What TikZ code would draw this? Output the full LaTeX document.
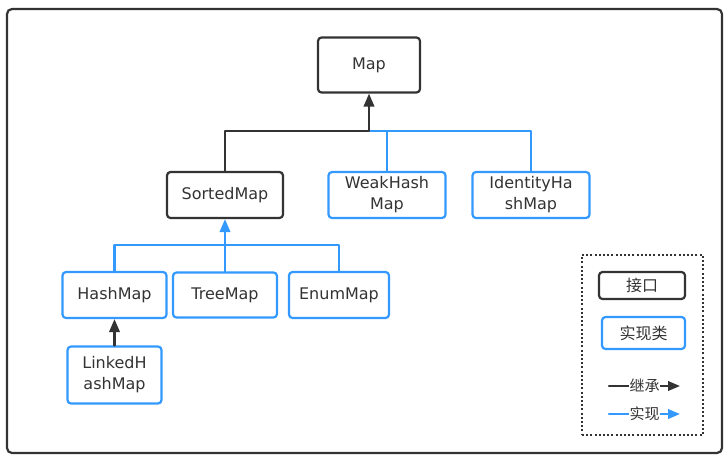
\documentclass[tikz,border=0pt]{standalone}
\usepackage{fontspec}
\setmainfont{DejaVu Sans}
\newfontfamily\cjk{Noto Sans CJK SC}
\usetikzlibrary{arrows.meta}
\definecolor{ifcgray}{HTML}{333333}
\definecolor{implblue}{HTML}{3399FF}

\begin{document}
\begin{tikzpicture}[x=1pt,y=-1pt,line cap=round,line join=round,
  every node/.style={inner sep=1pt,text=ifcgray,font=\fontsize{16}{21}\selectfont},
  ifcbox/.style={draw=ifcgray,line width=2.2pt,rounded corners=3.5pt,align=center},
  implbox/.style={draw=implblue,line width=2.2pt,rounded corners=3.5pt,align=center},
  extline/.style={draw=ifcgray,line width=2.2pt},
  impline/.style={draw=implblue,line width=2.2pt},
  exttip/.style={-{Triangle[length=13pt,width=10.5pt]}},
  legtip/.style={-{Triangle[length=12pt,width=9.5pt]}},
  legfont/.style={font=\fontsize{15}{17}\selectfont}]
  \useasboundingbox (0,0) rectangle (728,459);
  % 外框
  \draw[ifcgray,line width=2.2pt,rounded corners=5pt] (7,9) rectangle (722,453);
  % 接口
  \node[ifcbox,minimum width=102pt,minimum height=55pt] (map) at (369,65) {Map};
  \node[ifcbox,minimum width=116pt,minimum height=46pt] (sorted) at (225,195) {SortedMap};
  % 实现类
  \node[implbox,minimum width=117pt,minimum height=46pt] (weak) at (387,195) {WeakHash\\Map};
  \node[implbox,minimum width=117pt,minimum height=46pt] (ident) at (531,195) {IdentityHa\\shMap};
  \node[implbox,minimum width=104pt,minimum height=46pt] (hash) at (114.5,295) {HashMap};
  \node[implbox,minimum width=104pt,minimum height=45pt] (tree) at (225,295) {TreeMap};
  \node[implbox,minimum width=100pt,minimum height=46pt] (enum) at (339,295) {EnumMap};
  \node[implbox,minimum width=94pt,minimum height=57pt] (linked) at (114.5,375) {LinkedH\\ashMap};
  % 连线
  \coordinate (j1) at (369,131);
  \coordinate (j2) at (225,245);
  \draw[impline] (ident.north) |- (j1);
  \draw[impline] (weak.north) -- (weak.north |- j1);
  \draw[extline,exttip] (sorted.north) |- (j1) -- (map.south);
  \draw[impline] (hash.north) |- (j2);
  \draw[impline] (enum.north) |- (j2);
  \draw[impline,exttip] (tree.north) -- (sorted.south);
  \draw[extline,exttip] (linked.north) -- (hash.south);
  % 图例
  \node[draw=ifcgray,line width=2pt,line cap=butt,dash pattern=on 2pt off 2.2pt,
    minimum width=121pt,minimum height=180pt] (legend) at (642.5,345) {};
  \node[ifcbox,minimum width=86pt,minimum height=27pt,font=\fontsize{16}{18}\selectfont] (legifc) at (642,285.5) {\cjk 接口};
  \node[implbox,minimum width=83pt,minimum height=32pt,font=\fontsize{16}{18}\selectfont] (legimpl) at (643.5,333) {\cjk 实现类};
  \coordinate (ext-s) at (609,386);
  \coordinate (ext-e) at (680,386);
  \coordinate (imp-s) at (609,414);
  \coordinate (imp-e) at (680,414);
  \draw[extline,legtip] (ext-s) -- node[fill=white,inner sep=0.5pt,legfont]{\cjk 继承} (ext-e);
  \draw[impline,legtip] (imp-s) -- node[fill=white,inner sep=0.5pt,legfont]{\cjk 实现} (imp-e);
\end{tikzpicture}
\end{document}
